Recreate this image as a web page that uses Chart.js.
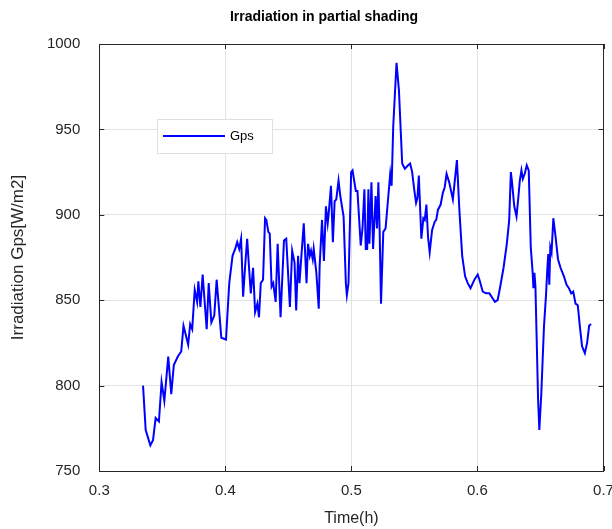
<!DOCTYPE html>
<html>
<head>
<meta charset="utf-8">
<title>Irradiation in partial shading</title>
<script src="https://cdn.jsdelivr.net/npm/chart.js@4/dist/chart.umd.min.js"></script>
<style>
  html, body { margin: 0; padding: 0; background: #ffffff; }
  #wrap { width: 612px; height: 529px; }
</style>
</head>
<body>
<div id="wrap"><canvas id="c" width="612" height="529"></canvas></div>
<script>
// Time in hours
const timeH = [
  0.3347, 0.3368, 0.3405, 0.3426, 0.3447, 0.3473, 0.3494, 0.3516, 0.3547, 0.3571,
  0.3591, 0.3623, 0.3650, 0.3668, 0.3705, 0.3721, 0.3737, 0.3757, 0.3776, 0.3786,
  0.3802, 0.3820, 0.3852, 0.3868, 0.3889, 0.3912, 0.3931, 0.3968, 0.4005, 0.4031,
  0.4057, 0.4078, 0.4094, 0.4110, 0.4125, 0.4141, 0.4157, 0.4173, 0.4188, 0.4202,
  0.4220, 0.4236, 0.4254, 0.4267, 0.4281, 0.4299, 0.4315, 0.4325, 0.4341, 0.4352,
  0.4367, 0.4380, 0.4399, 0.4415, 0.4438, 0.4465, 0.4483, 0.4512, 0.4530, 0.4549,
  0.4562, 0.4577, 0.4588, 0.4622, 0.4644, 0.4656, 0.4670, 0.4680, 0.4693, 0.4701,
  0.4722, 0.4741, 0.4748, 0.4767, 0.4782, 0.4798, 0.4812, 0.4819, 0.4838, 0.4853,
  0.4867, 0.4880, 0.4898, 0.4912, 0.4938, 0.4956, 0.4964, 0.4977, 0.4998, 0.5009,
  0.5035, 0.5048, 0.5074, 0.5088, 0.5103, 0.5114, 0.5125, 0.5135, 0.5143, 0.5159,
  0.5172, 0.5192, 0.5203, 0.5214, 0.5224, 0.5235, 0.5253, 0.5271, 0.5293, 0.5308,
  0.5319, 0.5332, 0.5358, 0.5377, 0.5403, 0.5424, 0.5450, 0.5466, 0.5482, 0.5498,
  0.5513, 0.5524, 0.5535, 0.5555, 0.5571, 0.5582, 0.5595, 0.5608, 0.5621, 0.5640,
  0.5661, 0.5673, 0.5687, 0.5708, 0.5726, 0.5740, 0.5755, 0.5776, 0.5805, 0.5819,
  0.5837, 0.5858, 0.5879, 0.5902, 0.5923, 0.5945, 0.5976, 0.6002, 0.6016, 0.6042,
  0.6068, 0.6095, 0.6121, 0.6139, 0.6160, 0.6181, 0.6207, 0.6233, 0.6252, 0.6265,
  0.6273, 0.6292, 0.6310, 0.6323, 0.6336, 0.6349, 0.6360, 0.6375, 0.6391, 0.6407,
  0.6423, 0.6438, 0.6444, 0.6452, 0.6460, 0.6470, 0.6481, 0.6491, 0.6507, 0.6528,
  0.6544, 0.6554, 0.6562, 0.6570, 0.6578, 0.6588, 0.6602, 0.6620, 0.6639, 0.6659,
  0.6686, 0.6707, 0.6726, 0.6744, 0.6760, 0.6778, 0.6796, 0.6812, 0.6830, 0.6852,
  0.6870, 0.6886, 0.6901
];

// Irradiation Gps in W/m2
const gps = [
  800, 774, 765, 768, 781, 779, 802, 791, 817, 795,
  812, 817, 820, 835, 824, 836, 833, 856, 849, 861,
  846, 865, 833, 860, 837, 841, 862, 828, 827, 860,
  876, 880, 884, 880, 886, 852, 870, 886, 869, 854,
  869, 843, 848, 840, 860, 862, 898, 897, 890, 889,
  858, 860, 849, 883, 840, 885, 886, 846, 879, 872,
  844, 876, 860, 895, 860, 883, 876, 879, 874, 880,
  866, 845, 870, 897, 873, 905, 895, 900, 917, 884,
  908, 909, 920, 911, 899, 860, 853, 860, 925, 926,
  914, 914, 882, 892, 915, 880, 880, 915, 883, 919,
  880, 911, 892, 919, 891, 848, 890, 892, 911, 924,
  917, 952, 989, 973, 930, 927, 929, 930, 925, 915,
  907, 910, 923, 886, 898, 897, 906, 887, 878, 891,
  896, 897, 903, 906, 913, 916, 924, 919, 909, 919,
  932, 901, 876, 864, 860, 857, 862, 865, 862, 855,
  854, 854, 851, 849, 850, 858, 869, 883, 897, 925,
  920, 905, 899, 909, 920, 926, 921, 924, 929, 926,
  881, 866, 857, 866, 858, 827, 792, 774, 796, 835,
  853, 868, 877, 859, 881, 878, 898, 887, 874, 869,
  864, 859, 857, 854, 855, 848, 847, 835, 823, 819,
  825, 835, 836
];

const xTicks = [0.3, 0.4, 0.5, 0.6, 0.7];
const yTicks = [750, 800, 850, 900, 950, 1000];
const seriesName = 'Gps';
const chartTitle = 'Irradiation in partial shading';

const FONT = "'Liberation Sans', Arial, Helvetica, sans-serif";
const AXIS_COLOR = '#262626';
const GRID_COLOR = '#e3e3e3';
const LINE_COLOR = '#0000ff';

const points = timeH.map((t, i) => ({ x: t, y: gps[i] }));

// Title, box around the axes, inward tick marks and the legend box
const axesDecor = {
  id: 'axesDecor',
  afterDatasetsDraw(chart) {
    const { ctx, chartArea: a, scales } = chart;
    const tl = 5;
    ctx.save();

    ctx.fillStyle = '#000000';
    ctx.font = 'bold 14px ' + FONT;
    ctx.textAlign = 'center';
    ctx.textBaseline = 'middle';
    ctx.fillText(chartTitle, 324, 17);

    ctx.strokeStyle = AXIS_COLOR;
    ctx.lineWidth = 1;
    ctx.beginPath();
    xTicks.forEach(v => {
      const px = Math.round(scales.x.getPixelForValue(v)) + 0.5;
      ctx.moveTo(px, a.bottom); ctx.lineTo(px, a.bottom - tl);
      ctx.moveTo(px, a.top); ctx.lineTo(px, a.top + tl);
    });
    yTicks.forEach(v => {
      const py = Math.round(scales.y.getPixelForValue(v)) + 0.5;
      ctx.moveTo(a.left, py); ctx.lineTo(a.left + tl, py);
      ctx.moveTo(a.right, py); ctx.lineTo(a.right - tl, py);
    });
    ctx.stroke();
    ctx.strokeRect(Math.round(a.left) + 0.5, Math.round(a.top) + 0.5,
                   Math.round(a.right - a.left), Math.round(a.bottom - a.top));

    // legend
    const ds = chart.data.datasets[0];
    const lx = 157, ly = 119, lw = 115, lh = 34;
    ctx.fillStyle = '#ffffff';
    ctx.fillRect(lx, ly, lw, lh);
    ctx.strokeStyle = '#e0e0e0';
    ctx.strokeRect(lx + 0.5, ly + 0.5, lw, lh);
    ctx.strokeStyle = ds.borderColor;
    ctx.lineWidth = 2;
    ctx.beginPath();
    ctx.moveTo(163, 136); ctx.lineTo(225, 136);
    ctx.stroke();
    ctx.fillStyle = '#000000';
    ctx.font = '13px ' + FONT;
    ctx.textAlign = 'left';
    ctx.textBaseline = 'middle';
    ctx.fillText(ds.label, 230, 136);
    ctx.restore();
  }
};

new Chart(document.getElementById('c'), {
  type: 'line',
  data: {
    datasets: [{
      label: seriesName,
      data: points,
      borderColor: LINE_COLOR,
      backgroundColor: LINE_COLOR,
      borderWidth: 2,
      pointRadius: 0,
      tension: 0,
      fill: false
    }]
  },
  options: {
    responsive: false,
    animation: false,
    devicePixelRatio: 1,
    layout: { padding: { left: 8, right: 8.5, top: 44, bottom: 0 } },
    plugins: {
      legend: { display: false },
      tooltip: { enabled: false },
      title: { display: false }
    },
    scales: {
      x: {
        type: 'linear',
        min: 0.3,
        max: 0.7,
        afterBuildTicks: s => { s.ticks = xTicks.map(v => ({ value: v })); },
        afterFit: s => { s.height = 58; s.paddingLeft = 0; s.paddingRight = 0; },
        ticks: {
          color: AXIS_COLOR,
          font: { family: FONT, size: 15 },
          padding: 11,
          maxRotation: 0,
          callback: v => v.toFixed(1)
        },
        grid: { color: GRID_COLOR, drawTicks: false },
        border: { display: false },
        title: {
          display: true,
          text: 'Time(h)',
          color: AXIS_COLOR,
          font: { family: FONT, size: 16, lineHeight: 1.2 },
          padding: { top: 0, bottom: 1 }
        }
      },
      y: {
        type: 'linear',
        min: 750,
        max: 1000,
        afterBuildTicks: s => { s.ticks = yTicks.map(v => ({ value: v })); },
        afterFit: s => { s.width = 91.3; s.paddingTop = 0; s.paddingBottom = 0; },
        ticks: {
          color: AXIS_COLOR,
          font: { family: FONT, size: 15 },
          padding: 19,
          callback: v => String(v)
        },
        grid: { color: GRID_COLOR, drawTicks: false },
        border: { display: false },
        title: {
          display: true,
          text: 'Irradiation Gps[W/m2]',
          color: AXIS_COLOR,
          font: { family: FONT, size: 17, lineHeight: 1.2 },
          padding: { top: 0, bottom: 0 }
        }
      }
    }
  },
  plugins: [axesDecor]
});
</script>
</body>
</html>
